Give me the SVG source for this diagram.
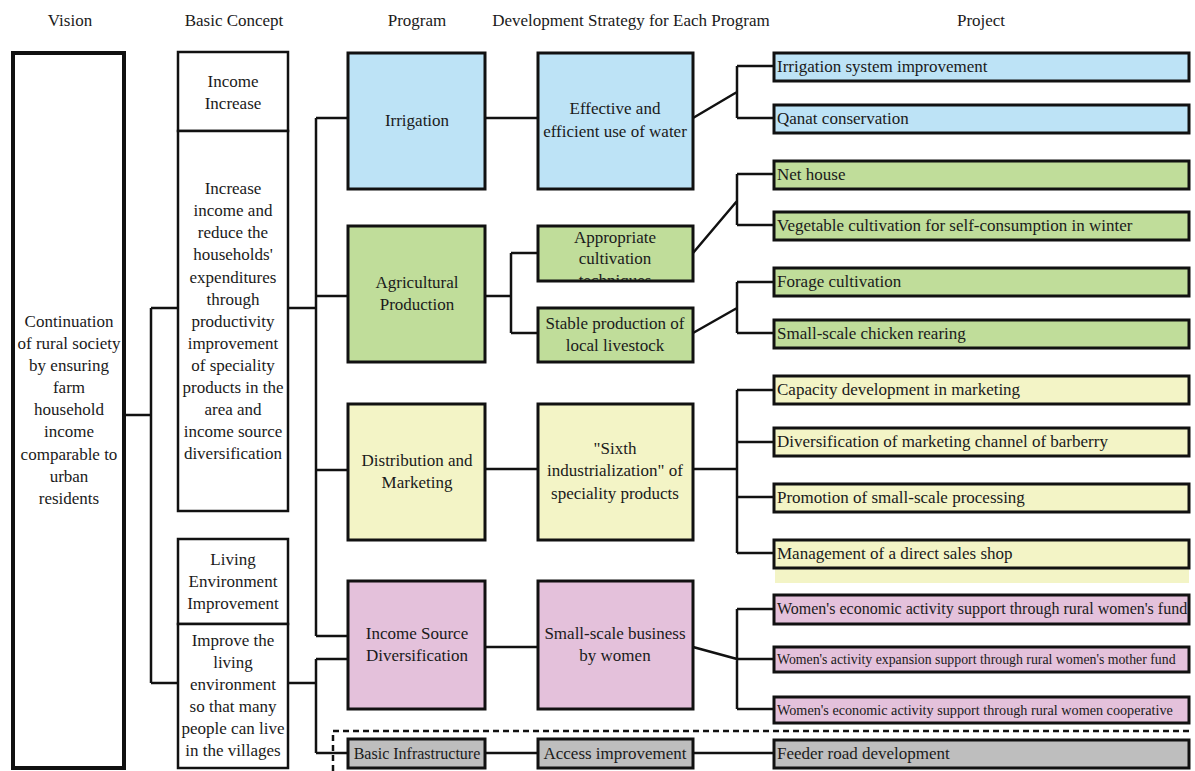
<svg xmlns="http://www.w3.org/2000/svg" width="1195" height="771" viewBox="0 0 1195 771">
<style>
text{font-family:"Liberation Serif","Times New Roman",serif;font-size:17px;fill:#1a1a1a}
.c{text-anchor:middle}
.bx{stroke:#111;stroke-width:3}
.bc{fill:#fff;stroke:#111;stroke-width:2.5}
.blue{fill:#bde3f6}.green{fill:#c0dd9a}.yellow{fill:#f3f4c6}.pink{fill:#e4c1db}.gray{fill:#bebebe}
.ln{fill:none;stroke:#111;stroke-width:2.5}
.dash{fill:none;stroke:#111;stroke-width:2.5;stroke-dasharray:6 4}
</style>
<defs>
<clipPath id="clipApp"><rect x="539" y="226" width="153" height="54"/></clipPath>
</defs>
<rect width="1195" height="771" fill="#fff"/>
<g id="headers">
<text class="c" x="70" y="26">Vision</text>
<text class="c" x="234" y="26">Basic Concept</text>
<text class="c" x="417" y="26">Program</text>
<text class="c" x="631" y="26">Development Strategy for Each Program</text>
<text class="c" x="981" y="26">Project</text>
</g>
<g id="connectors">
<path class="ln" d="M124 415H151M151 308V683M151 308H178M151 683H178"/>
<path class="ln" d="M288 308H316M316 118V636M316 118H348M316 296H348M316 470H348M316 636H348"/>
<path class="ln" d="M288 683H316M316 659V753M316 659H348M316 753H348"/>
<path class="ln" d="M485 118H538"/>
<path class="ln" d="M485 296H511M511 253V333M511 253H538M511 333H538"/>
<path class="ln" d="M485 469H538M485 647H538M485 753H538"/>
<path class="ln" d="M693 118L737 92M737 66V118M737 66H774M737 118H774"/>
<path class="ln" d="M693 253L737 201M737 174V225M737 174H774M737 225H774"/>
<path class="ln" d="M693 333L737 308M737 282V333M737 282H774M737 333H774"/>
<path class="ln" d="M693 469H737M737 390V553M737 390H774M737 442H774M737 497H774M737 553H774"/>
<path class="ln" d="M693 647L737 659M737 609V709M737 609H774M737 659H774M737 709H774"/>
<path class="ln" d="M693 753H774"/>
<path class="dash" d="M333 771V731H1190"/>
</g>
<g id="vision">
<rect x="13" y="53" width="111" height="715" fill="#fff" stroke="#111" stroke-width="4"/>
<text class="c" x="69" y="327">Continuation</text>
<text class="c" x="69" y="349">of rural society</text>
<text class="c" x="69" y="371">by ensuring</text>
<text class="c" x="69" y="393">farm</text>
<text class="c" x="69" y="415">household</text>
<text class="c" x="69" y="437">income</text>
<text class="c" x="69" y="460">comparable to</text>
<text class="c" x="69" y="482">urban</text>
<text class="c" x="69" y="504">residents</text>
</g>
<g id="concept-income">
<rect class="bc" x="178" y="52" width="110" height="79"/>
<text class="c" x="233" y="87">Income</text>
<text class="c" x="233" y="109">Increase</text>
</g>
<g id="concept-income-detail">
<rect class="bc" x="178" y="131" width="110" height="380"/>
<text class="c" x="233" y="194">Increase</text>
<text class="c" x="233" y="216">income and</text>
<text class="c" x="233" y="238">reduce the</text>
<text class="c" x="233" y="260">households'</text>
<text class="c" x="233" y="283">expenditures</text>
<text class="c" x="233" y="305">through</text>
<text class="c" x="233" y="327">productivity</text>
<text class="c" x="233" y="349">improvement</text>
<text class="c" x="233" y="371">of speciality</text>
<text class="c" x="233" y="393">products in the</text>
<text class="c" x="233" y="415">area and</text>
<text class="c" x="233" y="437">income source</text>
<text class="c" x="233" y="459">diversification</text>
</g>
<g id="concept-living">
<rect class="bc" x="178" y="539" width="110" height="85"/>
<text class="c" x="233" y="565">Living</text>
<text class="c" x="233" y="587">Environment</text>
<text class="c" x="233" y="609">Improvement</text>
</g>
<g id="concept-living-detail">
<rect class="bc" x="178" y="624" width="110" height="144"/>
<text class="c" x="233" y="646">Improve the</text>
<text class="c" x="233" y="668">living</text>
<text class="c" x="233" y="690">environment</text>
<text class="c" x="233" y="712">so that many</text>
<text class="c" x="233" y="734">people can live</text>
<text class="c" x="233" y="756">in the villages</text>
</g>
<g id="prog-irrigation">
<rect class="bx blue" x="348" y="53" width="137" height="136"/>
<text class="c" x="417" y="126">Irrigation</text>
</g>
<g id="prog-agri">
<rect class="bx green" x="348" y="226" width="137" height="136"/>
<text class="c" x="417" y="288">Agricultural</text>
<text class="c" x="417" y="310">Production</text>
</g>
<g id="prog-dist">
<rect class="bx yellow" x="348" y="404" width="137" height="136"/>
<text class="c" x="417" y="466">Distribution and</text>
<text class="c" x="417" y="488">Marketing</text>
</g>
<g id="prog-income">
<rect class="bx pink" x="348" y="581" width="137" height="128"/>
<text class="c" x="417" y="639">Income Source</text>
<text class="c" x="417" y="661">Diversification</text>
</g>
<g id="prog-infra">
<rect class="bx gray" x="348" y="739" width="137" height="29"/>
<text class="c" x="417" y="759" style="font-size:16px">Basic Infrastructure</text>
</g>
<g id="str-water">
<rect class="bx blue" x="538" y="53" width="155" height="136"/>
<text class="c" x="615" y="114">Effective and</text>
<text class="c" x="615" y="137">efficient use of water</text>
</g>
<g id="str-cultivation">
<rect class="bx green" x="538" y="226" width="155" height="55"/>
<g clip-path="url(#clipApp)">
<text class="c" x="615" y="243">Appropriate</text>
<text class="c" x="615" y="264">cultivation</text>
<text class="c" x="615" y="286">techniques</text>
</g>
</g>
<g id="str-livestock">
<rect class="bx green" x="538" y="308" width="155" height="54"/>
<text class="c" x="615" y="329">Stable production of</text>
<text class="c" x="615" y="351">local livestock</text>
</g>
<g id="str-sixth">
<rect class="bx yellow" x="538" y="404" width="155" height="136"/>
<text class="c" x="615" y="454">"Sixth</text>
<text class="c" x="615" y="476">industrialization" of</text>
<text class="c" x="615" y="499">speciality products</text>
</g>
<g id="str-women">
<rect class="bx pink" x="538" y="581" width="155" height="128"/>
<text class="c" x="615" y="639">Small-scale business</text>
<text class="c" x="615" y="661">by women</text>
</g>
<g id="str-access">
<rect class="bx gray" x="538" y="739" width="155" height="29"/>
<text class="c" x="615" y="759">Access improvement</text>
</g>
<g id="proj-1"><rect class="bx blue" x="774" y="53" width="415" height="28"/><text x="777" y="72">Irrigation system improvement</text></g>
<g id="proj-2"><rect class="bx blue" x="774" y="105" width="415" height="28"/><text x="777" y="124">Qanat conservation</text></g>
<g id="proj-3"><rect class="bx green" x="774" y="161" width="415" height="28"/><text x="777" y="180">Net house</text></g>
<g id="proj-4"><rect class="bx green" x="774" y="212" width="415" height="28"/><text x="777" y="231">Vegetable cultivation for self-consumption in winter</text></g>
<g id="proj-5"><rect class="bx green" x="774" y="268" width="415" height="28"/><text x="777" y="287">Forage cultivation</text></g>
<g id="proj-6"><rect class="bx green" x="774" y="320" width="415" height="28"/><text x="777" y="339">Small-scale chicken rearing</text></g>
<g id="proj-7"><rect class="bx yellow" x="774" y="376" width="415" height="28"/><text x="777" y="395">Capacity development in marketing</text></g>
<g id="proj-8"><rect class="bx yellow" x="774" y="428" width="415" height="28"/><text x="777" y="447">Diversification of marketing channel of barberry</text></g>
<g id="proj-9"><rect class="bx yellow" x="774" y="484" width="415" height="28"/><text x="777" y="503">Promotion of small-scale processing</text></g>
<g id="proj-10"><rect x="775" y="568" width="414" height="15" class="yellow"/><rect class="bx yellow" x="774" y="540" width="415" height="28"/><text x="777" y="559">Management of a direct sales shop</text></g>
<g id="proj-11"><rect class="bx pink" x="774" y="595" width="415" height="29"/><text x="777" y="614" style="font-size:16px">Women's economic activity support through rural women's fund</text></g>
<g id="proj-12"><rect class="bx pink" x="774" y="647" width="415" height="25"/><text x="777" y="664" style="font-size:13.8px">Women's activity expansion support through rural women's mother fund</text></g>
<g id="proj-13"><rect class="bx pink" x="774" y="697" width="415" height="26"/><text x="777" y="715" style="font-size:14.2px">Women's economic activity support through rural women cooperative</text></g>
<g id="proj-14"><rect class="bx gray" x="774" y="740" width="415" height="28"/><text x="777" y="759">Feeder road development</text></g>
</svg>
